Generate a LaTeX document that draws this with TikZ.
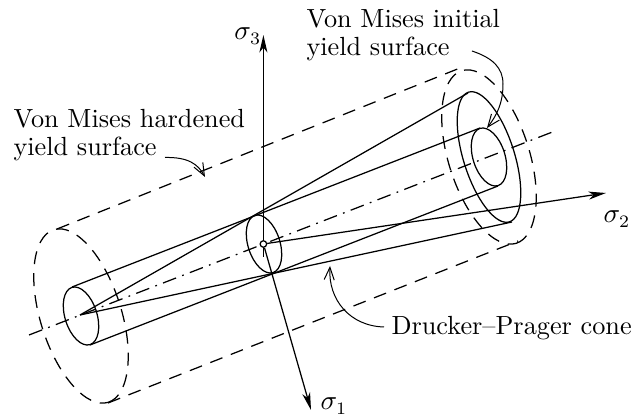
\documentclass[tikz,border=0pt]{standalone}
\usetikzlibrary{arrows.meta}
\tikzset{
  line/.style={line width=0.5pt,line join=round},
  hid/.style={line,dash pattern=on 5.2pt off 3.6pt},
  centre/.style={line,dash pattern=on 5.6pt off 2.6pt on 0.7pt off 2.6pt},
  axis/.style={line,-{Stealth[length=7pt,width=3.2pt,inset=2pt]}},
  lead/.style={line width=0.4pt,-{Straight Barb[length=5pt,width=4pt]}},
  lab/.style={inner sep=0pt,font=\fontsize{10.5}{11}\selectfont},
}
\begin{document}
\begin{tikzpicture}[x=0.4pt,y=-0.4pt]
\useasboundingbox (0,0) rectangle (635,419);
% named points
\coordinate (LC) at (81,316);
\coordinate (MC) at (264,244);
\coordinate (RC) at (489,157);
\coordinate (Apex) at (80,315);
\coordinate (Ltop) at (72,287);
\coordinate (Lbot) at (90,345);
\coordinate (Itop) at (480,128);
\coordinate (Ibot) at (498,186);
\coordinate (Ctop) at (468,93);
\coordinate (Cbot) at (512,222);
\coordinate (DLtop) at (57,229);
\coordinate (DRtop) at (460,68);
\coordinate (DLbot) at (108,403);
\coordinate (DRbot) at (518,241);
\coordinate (AxA) at (29,335);
\coordinate (AxB) at (555,131);
\coordinate (S3tail) at (263.4,257);
\coordinate (S3tip) at (263.4,35);
\coordinate (S1tip) at (311,410);
\coordinate (S2tip) at (606,193);
% dashed hardened surface
\draw[hid,shift={(LC)},rotate=-72.5] (0,0) ellipse [x radius=36.2pt,y radius=16.2pt];
\draw[hid,shift={(RC)},rotate=-72.5] (0,0) ellipse [x radius=36.2pt,y radius=16.2pt];
\draw[hid] (DLtop) -- (DRtop);
\draw[hid] (DLbot) -- (DRbot);
% centre line
\draw[centre] (AxA) -- (AxB);
% initial surface
\draw[line,shift={(LC)},rotate=-72.5] (0,0) ellipse [x radius=12pt,y radius=6.4pt];
\draw[line,shift={(MC)},rotate=-72.5] (0,0) ellipse [x radius=12pt,y radius=6.4pt];
\draw[line,shift={(RC)},rotate=-72.5] (0,0) ellipse [x radius=12pt,y radius=6.4pt];
\draw[line] (Ltop) -- (Itop);
\draw[line] (Lbot) -- (Ibot);
% cone
\draw[line,shift={(RC)},rotate=-72.5] (0,0) ellipse [x radius=27.2pt,y radius=10.2pt];
\draw[line] (Apex) -- (Ctop);
\draw[line] (Apex) -- (Cbot);
% axes
\draw[axis] (S3tail) -- (S3tip);
\node[circle,draw,line width=0.5pt,fill=white,inner sep=0pt,minimum size=2.6pt] (O) at (263.4,244) {};
\draw[axis] (O) -- (S1tip);
\draw[axis] (O) -- (S2tip);
\node[lab,anchor=base west] (s3) at (234,40) {$\sigma_3$};
\node[lab,anchor=base west] (s1) at (320,410) {$\sigma_1$};
\node[lab,anchor=base west] (s2) at (603,223) {$\sigma_2$};
% labels
\node[lab,anchor=north west,align=left] (hard) at (13,108.8) {Von Mises hardened\\yield surface};
\node[lab,anchor=north west,align=left] (init) at (306,8.8) {Von Mises initial\\yield surface};
\node[lab,anchor=base west] (dp) at (391,335) {Drucker--Prager cone};
% leaders
\coordinate (HS) at (165,157.5);
\coordinate (HE) at (205,177);
\draw[lead] (HS) .. controls (188,157) and (198,164) .. (HE);
\coordinate (DS) at (384,327);
\coordinate (DE) at (330,266);
\draw[lead] (DS) .. controls (350,326) and (328,300) .. (DE);
\coordinate (IS) at (472,51);
\coordinate (IM) at (503,84);
\coordinate (IE) at (487,128);
\draw[line width=0.4pt] (IS) .. controls (493,58) and (503,68) .. (IM);
\draw[lead] (IM) .. controls (503,103) and (497,115) .. (IE);
\end{tikzpicture}
\end{document}
